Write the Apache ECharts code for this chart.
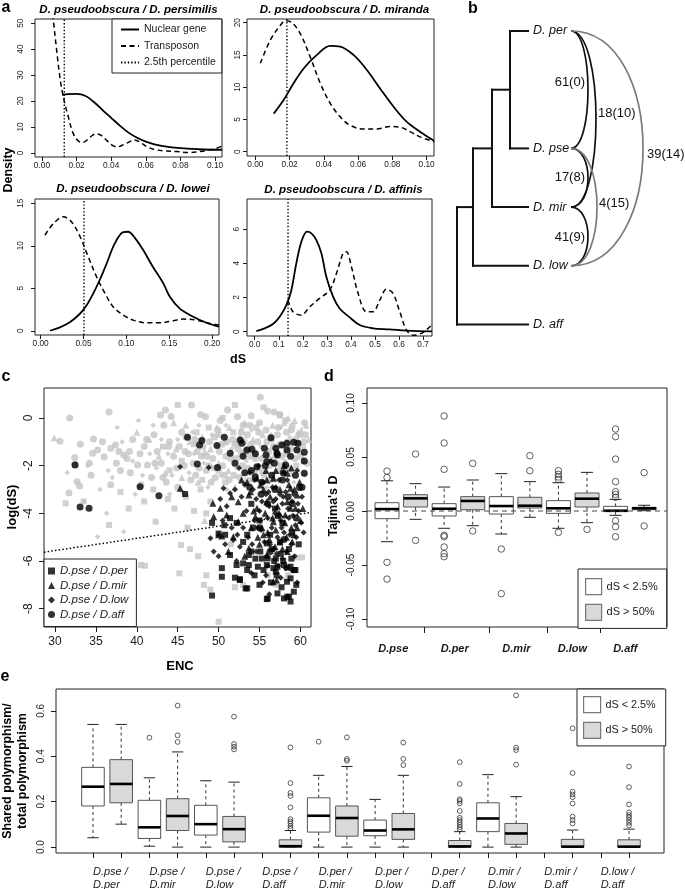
<!DOCTYPE html>
<html>
<head>
<meta charset="utf-8">
<script src="https://cdn.jsdelivr.net/npm/echarts@6.0.0/dist/echarts.min.js"></script>
<style>
html,body{margin:0;padding:0;background:#fff;}
#chart{width:685px;height:889px;}
</style>
</head>
<body>
<div id="chart"></div>
<script>
// ================= DATA =================
// Panel a: density curves [dS, density]
const persNuclear = [[0.0118,22.3],[0.015,22.6],[0.02,22.7],[0.025,22.0],[0.03,19.6],[0.035,16.5],[0.04,13.5],[0.045,10.5],[0.05,7.8],[0.055,5.8],[0.06,4.3],[0.065,3.3],[0.07,2.6],[0.08,1.8],[0.09,1.4],[0.1,1.2],[0.104,1.2]];
const persTransposon = [[0.0050,60],[0.0066,51],[0.0085,39.6],[0.0104,29],[0.0123,21.7],[0.0152,14],[0.018,7.6],[0.021,4.6],[0.0235,4.0],[0.026,4.9],[0.0287,6.5],[0.031,7.3],[0.034,6.8],[0.0374,4.8],[0.041,2.8],[0.0435,2.3],[0.047,3.1],[0.051,4.4],[0.0535,5.0],[0.057,4.0],[0.0605,2.4],[0.065,1.3],[0.07,0.8],[0.0778,0.5],[0.0855,0.1],[0.0913,0.5],[0.097,1.2],[0.1,1.6],[0.104,2.6]];
const mirNuclear = [[0.0107,5.9],[0.0165,8.0],[0.0223,10.6],[0.0282,12.9],[0.0359,15.0],[0.0437,16.4],[0.0495,16.3],[0.0573,15.0],[0.065,12.7],[0.0728,9.8],[0.0806,7.0],[0.0883,4.65],[0.0961,3.1],[0.1043,1.7]];
const mirTransposon = [[0.0029,13.7],[0.0087,17.3],[0.0146,19.6],[0.0175,20.3],[0.0214,20.0],[0.0262,18.3],[0.032,14.7],[0.0379,10.6],[0.0437,7.5],[0.0495,5.4],[0.0553,4.1],[0.0631,3.5],[0.0709,3.5],[0.0786,3.9],[0.0845,3.8],[0.0903,3.1],[0.0961,2.3],[0.1043,1.55]];
const lowNuclear = [[0.0109,0],[0.0225,0.4],[0.034,1.0],[0.0458,2.0],[0.0536,3.0],[0.0614,4.4],[0.069,6.0],[0.0769,7.9],[0.0866,10.3],[0.0963,11.6],[0.102,11.65],[0.110,10.9],[0.1196,9.5],[0.131,7.5],[0.1429,5.6],[0.1507,4.0],[0.1623,2.6],[0.1779,1.65],[0.1934,0.94],[0.208,0.47]];
const lowTransposon = [[0.005,11.25],[0.0148,12.6],[0.0264,13.4],[0.0361,12.8],[0.0458,11.1],[0.0555,8.7],[0.0652,6.35],[0.075,4.4],[0.0847,2.8],[0.0963,1.85],[0.108,1.25],[0.1235,0.94],[0.139,0.94],[0.1546,1.18],[0.1662,1.37],[0.1817,1.25],[0.1973,0.86],[0.208,0.67]];
const affNuclear = [[0.007,0.04],[0.0416,0.2],[0.076,0.45],[0.104,0.88],[0.1317,1.56],[0.1525,2.44],[0.173,4.0],[0.194,5.26],[0.2176,5.85],[0.2357,5.75],[0.2564,5.36],[0.2772,4.58],[0.298,3.2],[0.3258,2.05],[0.353,1.36],[0.395,0.84],[0.4366,0.39],[0.492,0.2],[0.561,0.14],[0.631,0.06],[0.737,0.02]];
const affTransposon = [[0.1386,1.85],[0.159,1.17],[0.194,0.97],[0.2287,1.46],[0.27,1.95],[0.312,2.44],[0.3396,3.4],[0.367,4.58],[0.381,4.68],[0.402,3.8],[0.43,2.24],[0.4644,1.17],[0.492,1.17],[0.52,1.85],[0.5475,2.48],[0.575,2.24],[0.603,1.17],[0.631,0.1],[0.6584,-0.2],[0.693,-0.1],[0.728,0.29],[0.737,0.45]];
const percentile25 = [0.0129, 0.0184, 0.0505, 0.1386];
const aTitles = ['D. pseudoobscura / D. persimilis','D. pseudoobscura / D. miranda','D. pseudoobscura / D. lowei','D. pseudoobscura / D. affinis'];
const aXTicks = [[0,0.02,0.04,0.06,0.08,0.1],[0,0.02,0.04,0.06,0.08,0.1],[0,0.05,0.1,0.15,0.2],[0,0.1,0.2,0.3,0.4,0.5,0.6,0.7]];
const aYTicks = [[0,10,20,30,40,50],[0,5,10,15,20],[0,5,10,15],[0,2,4,6]];

// Panel b: tree + shared polymorphism arcs
const tipNames = ['D. per','D. pse','D. mir','D. low','D. aff'];
const treeClades = [
  {children:['t0','t1'], depth:18},
  {children:['n0','t2'], depth:36},
  {children:['n1','t3'], depth:55},
  {children:['n2','t4'], depth:71}
];
const sharedArcs = [[0,1,'61(0)'],[0,2,'18(10)'],[1,2,'17(8)'],[2,3,'41(9)'],[1,3,'4(15)'],[0,3,'39(14)']];

// Panel c: [ENC, log(dS)]
const grayCircle = [[31.8,0.0],[36.6,0.25],[30.6,-0.97],[33.1,-1.1],[34.7,-0.88],[35.8,-1.0],[32.4,-1.66],[32.4,-1.94],[32.7,-2.67],[33.0,-2.85],[31.7,-3.15],[34.6,-1.48],[35.2,-1.34],[34.2,-1.9],[36.0,-1.62],[36.8,-1.27],[37.4,-1.13],[38.4,-1.55],[39.1,-1.41],[40.1,-1.97],[40.9,-1.2],[41.3,-1.97],[40.5,-2.8],[36.8,-2.8],[34.4,-2.4],[42.5,-1.4],[42.1,-0.7],[42.9,0.13],[43.5,0.34],[44.2,0.06],[43.3,-0.3],[46.7,0.55],[47.8,0.15],[48.4,0.05],[50.2,-0.1],[51.1,0.34],[52.3,0.05],[53.0,-0.3],[54.0,0.1],[55.1,0.87],[56.0,0.3],[56.8,0.25],[57.5,0.15],[58.2,-0.1],[59.0,-0.35],[60.5,-0.2],
  [44.5,-1.6],[45.2,-1.2],[45.8,-2.0],[46.3,-1.5],[46.9,-1.9],[47.2,-2.4],[47.9,-1.6],[48.5,-2.2],[48.9,-1.0],[49.3,-1.7],[49.6,-2.5],[50.1,-1.4],[50.5,-2.0],[51.0,-1.0],[51.5,-1.7],[51.9,-2.4],[52.4,-1.3],[52.9,-2.0],[53.5,-0.7],[53.9,-1.6],[54.3,-2.3],[54.8,-1.0],[55.3,-1.7],[55.8,-0.5],[56.2,-2.0],[56.7,-1.2],[57.2,-0.7],[57.7,-1.6],[58.3,-0.6],[58.8,-1.3],[59.4,-0.9],[60.0,-1.6],[60.6,-0.7],[41.8,-2.5],[43.0,-1.9],[43.6,-2.7],[44.0,-1.0],[45.0,-2.9],[46.0,-0.8],[38.0,-2.2],[39.5,-0.9],[37.5,-1.9],
  [46.6,-2.6],[47.1,-0.9],[47.6,-2.1],[48.1,-1.2],[48.6,-1.6],[49.1,-2.7],[49.5,-0.8],[50.0,-2.2],[50.4,-1.1],[50.9,-1.6],[51.3,-2.6],[51.7,-0.9],[52.2,-1.7],[52.6,-2.5],[53.1,-1.0],[53.6,-2.1],[54.0,-1.1],[54.5,-1.7],[54.9,-0.6],[55.4,-2.3],[55.9,-1.0],[56.3,-2.6],[56.8,-1.7],[57.3,-0.4],[57.8,-2.0],[58.3,-1.5],[58.9,-0.5],[59.3,-1.7],[59.9,-0.7],[60.4,-1.0],[45.5,-0.6],[44.9,-2.1],[43.9,-1.2],[43.2,-2.5],[42.2,-1.9],[41.2,-0.9],[40.4,-1.5],[39.2,-2.3],[38.8,-1.7],[37.8,-1.4],
  [45.9,-1.4],[47.4,-1.4],[48.8,-2.0],[50.7,-2.4],[52.0,-1.1],[53.3,-1.4],[54.7,-2.1],[56.1,-1.4],[57.5,-1.1],[58.6,-2.1],[59.7,-1.3],[60.8,-1.9],[55.0,-0.2],[53.8,-0.3],[52.8,-0.6],[49.9,-0.5]];
const graySquare = [[31.3,-3.58],[36.6,-4.49],[40.9,-3.5],[42.3,-4.35],[45.0,0.55],[45.4,-5.33],[45.2,-6.52],[40.5,-6.17],[41.0,-6.2],[46.5,-5.5],[47.5,-5.8],[48.5,-6.6],[49.0,-7.2],[48.2,-7.0],[50.0,-8.55],[51.5,-5.3],[53.0,-7.0],[52.0,-7.1],[56.0,-6.6],[57.0,-7.0],[59.5,-5.85],[60.2,-5.85],[58.5,-6.6],[33.5,-3.5],[38.0,-3.1],[39.0,-3.8],[43.8,-3.4],[44.6,-3.8],[46.0,-3.3],[47.0,-3.9],[47.8,-3.0],[48.5,-4.0],[46.2,-4.6],[49.0,-3.5],[50.5,0.0],[52.0,0.55],[55.5,0.45],[57.5,0.1],[44.0,-2.2],[45.5,-1.8],[47.0,-1.1],[48.0,-2.6],[49.5,-2.1],[50.8,-2.7],[51.8,-0.6],[52.8,-1.5],[53.8,-2.6],[54.6,-0.4],[55.6,-2.4],[56.5,-0.9],[57.5,-2.2],[58.5,-1.0],[59.5,-2.0],[60.3,-1.2],[43.2,-1.2],[42.0,-3.0],[48.8,-0.4],[47.3,-0.6],[50.0,-0.7]];
const grayTriangle = [[29.9,-0.83],[40.0,-0.6],[44.5,-0.2],[46.0,-0.3],[48.0,-0.8],[49.0,-1.3],[50.0,-1.9],[51.3,-0.4],[52.1,-1.0],[53.2,-0.2],[54.2,-0.9],[55.0,-2.1],[55.9,-1.3],[56.6,-0.3],[57.3,-1.9],[58.0,-0.2],[58.8,-2.3],[59.3,-0.1],[60.1,-0.5],[60.7,-0.3],[61.0,-0.9],[59.7,-0.6],[57.9,-1.1],[56.1,-1.6],[54.5,-1.4],[53.3,-2.6],[52.6,-0.8],[51.2,-2.2],[49.8,-0.4],[48.3,-1.4],[47.5,-2.7],[46.5,-1.0],[45.5,-2.5],[44.8,-1.3],[43.5,-2.3],[42.7,-1.6],[41.5,-0.9],[48.3,-4.3],[55.4,-0.7],[53.6,-1.2],[58.5,0.0],[60.4,-1.8],[50.7,-1.0],[52.0,-2.9]];
const grayDiamond = [[33.5,-3.5],[35.2,-4.98],[38.4,-4.77],[37.0,-2.5],[38.2,-1.0],[39.5,-1.8],[40.7,-2.4],[41.6,-1.5],[36.5,-2.2],[35.5,-3.0],[39.8,-3.2],[42.0,-0.3],[43.0,-0.9],[43.8,-1.5],[44.3,-2.4],[45.0,-0.9],[45.6,-3.1],[46.4,-2.3],[47.0,-1.5],[47.6,-0.3],[48.2,-1.9],[48.7,-2.9],[49.2,-0.7],[49.9,-1.2],[50.3,-2.4],[50.9,-0.3],[51.6,-1.3],[52.2,-2.1],[52.7,-0.5],[53.4,-1.8],[54.0,-0.5],[54.7,-2.6],[55.2,-1.2],[55.9,-2.9],[56.4,-0.7],[56.9,-2.6],[57.6,-0.4],[58.1,-1.8],[58.7,-0.8],[59.2,-2.7],[59.8,-1.1],[60.5,-2.4],[44.0,-3.2],[42.4,-2.1],[46.8,-0.6],[51.0,-3.0],[40.2,-0.1],[37.6,-0.4],[34.0,-2.0],[31.5,-2.3],[36.3,-4.0]];
const perPoints = [[45.9,-3.19],[49.2,-4.4],[50.7,-4.5],[50.8,-4.9],[50.0,-4.85],[50.4,-6.3],[50.4,-6.66],[52.0,-6.7],[52.6,-6.76],[52.2,-6.17],[53.0,-6.1],[53.5,-6.38],[54.5,-5.9],[55.9,-6.17],[56.7,-6.3],[57.9,-6.0],[58.8,-6.24],[59.4,-6.38],[58.8,-6.73],[59.2,-7.29],[58.4,-7.5],[58.8,-7.7],[55.9,-7.6],[53.5,-7.15],[49.2,-7.45],[52.6,-6.8],[55.9,-5.26],[55.1,-5.6],[57.5,-5.2],[51.4,-5.75],[53.7,-5.75],[53.7,-6.17],[54.8,-6.24],[56.0,-5.89],[57.0,-5.89],[57.2,-6.24],[58.0,-6.17],[57.0,-6.45],[58.4,-6.28],[59.25,-6.38],[58.36,-6.87],[57.2,-7.36],[58.0,-7.57],[58.6,-7.5],[56.0,-7.57],[53.3,-7.15],[55.5,-6.38],[54.2,-4.6],[56.3,-4.9],[57.8,-4.4],[59.0,-4.8],[55.0,-4.3],[53.0,-5.2],[52.2,-4.4],[51.4,-4.2],[56.9,-3.8],[58.6,-5.5],[59.8,-5.3],[54.0,-3.6],[53.5,-4.9],[56.5,-5.5],[57.6,-5.7],[58.9,-5.9],[55.3,-5.9],[54.4,-6.6],[56.4,-6.9],[57.7,-7.1],[55.0,-7.0],[57.1,-6.6],[59.5,-7.0],[54.0,-5.6],[56.8,-6.0]];
const mirPoints = [[45.3,-2.95],[49.3,-3.58],[50.2,-3.79],[49.4,-4.14],[51.0,-4.07],[50.0,-4.9],[50.4,-4.95],[51.8,-4.98],[52.4,-4.35],[54.5,-4.14],[54.7,-3.79],[53.7,-3.23],[55.1,-2.81],[54.7,-2.53],[56.7,-4.35],[58.15,-4.07],[58.8,-3.79],[59.2,-4.9],[58.4,-5.6],[55.9,-5.75],[53.7,-5.47],[56.7,-6.87],[57.1,-6.8],[59.0,-5.19],[58.4,-3.51],[59.4,-3.79],[59.6,-3.23],[56.7,-2.53],[58.4,-2.32],[58.8,-2.95],[53.9,-3.09],[52.4,-3.51],[55.9,-3.51],[57.5,-3.0],[57.0,-4.7],[55.3,-4.6],[53.0,-4.0],[51.6,-3.3],[60.0,-4.3],[57.8,-5.5],[56.2,-5.1],[54.8,-5.0],[58.0,-2.0],[59.9,-2.7],[55.8,-2.2],[52.8,-2.6],[53.2,-5.8],[51.2,-5.6],[55.5,-3.0],[56.3,-3.3],[57.2,-3.7],[58.1,-4.4],[58.9,-4.6],[55.7,-4.0],[56.6,-4.2],[57.5,-5.2],[59.3,-3.0],[54.3,-3.9],[55.0,-5.3],[56.0,-4.8],[58.6,-2.8],[57.0,-2.2],[54.0,-4.6],[55.5,-4.9],[56.9,-5.4],[58.3,-5.0],[59.6,-4.6],[60.3,-3.8],[57.4,-4.0],[55.9,-2.6],[58.9,-2.1],[53.5,-2.7]];
const lowPoints = [[45.3,-2.04],[48.8,-2.08],[49.0,-5.05],[49.4,-5.6],[51.8,-5.12],[50.6,-2.95],[51.4,-3.16],[50.2,-3.4],[51.0,-3.7],[52.0,-3.0],[52.8,-3.3],[53.2,-2.8],[53.8,-2.3],[54.2,-3.0],[54.6,-3.4],[55.0,-3.9],[55.4,-2.7],[55.8,-3.2],[56.2,-3.7],[56.6,-2.9],[57.0,-3.4],[57.4,-2.6],[57.8,-3.6],[58.2,-3.1],[58.6,-4.2],[59.0,-3.5],[59.4,-4.5],[59.8,-3.9],[60.2,-3.3],[56.0,-4.2],[56.5,-4.6],[57.2,-5.0],[57.6,-4.3],[58.0,-4.8],[58.9,-5.3],[59.3,-5.8],[57.8,-5.9],[56.8,-5.5],[55.6,-5.2],[54.6,-5.6],[53.6,-5.0],[52.6,-5.4],[51.6,-4.6],[50.8,-5.3],[50.0,-5.8],[52.2,-6.0],[54.0,-6.5],[55.4,-6.9],[56.2,-7.4],[57.6,-6.7],[59.6,-6.9],[53.0,-4.6],[54.4,-4.3],[55.2,-4.7],[58.4,-2.6],[59.6,-2.2],[56.4,-1.8],[54.9,-2.0],[52.5,-2.1],[50.5,-4.3],[60.4,-4.8],[59.0,-6.4],[57.1,-5.7],[56.0,-6.2],[55.3,-3.5],[56.1,-3.1],[56.9,-4.0],[57.7,-4.6],[58.5,-3.8],[59.1,-4.1],[54.8,-4.6],[55.9,-5.8],[57.3,-6.2],[58.3,-5.6],[54.1,-5.3],[56.7,-3.5],[57.9,-3.3],[59.5,-5.0],[54.4,-2.6],[55.1,-4.3],[56.3,-5.3],[57.5,-3.2],[58.7,-4.9],[59.7,-3.6],[60.1,-4.4],[58.2,-6.3],[55.8,-6.6],[53.4,-3.9],[52.3,-4.9],[57.0,-2.9],[59.2,-3.2],[58.0,-2.3]];
const affPoints = [[32.45,-1.97],[33.06,-3.73],[34.16,-3.79],[40.4,-2.88],[42.7,-3.26],[46.2,-0.81],[47.95,-0.94],[47.67,-1.13],[49.8,-1.15],[50.7,-0.81],[47.4,-1.93],[49.87,-2.08],[52.0,-1.9],[52.64,-0.92],[52.85,-1.06],[53.46,-1.34],[54.68,-2.04],[55.9,-1.83],[56.4,-0.83],[57.13,-1.48],[57.74,-1.13],[58.36,-1.06],[59.17,-1.02],[59.7,-1.06],[58.36,-1.34],[59.58,-1.34],[60.48,-1.44],[60.48,-1.8],[60.48,-2.32],[59.9,-2.92],[54.07,-1.31],[51.42,-1.48],[54.48,-2.46],[55.8,-1.55],[57.0,-1.27],[57.2,-1.55],[55.6,-1.27],[58.2,-1.97],[53.2,-2.3],[56.5,-2.4],[57.8,-2.6],[55.2,-3.2],[53.8,-2.9],[56.0,-3.6],[58.5,-3.3],[57.3,-4.1],[55.0,-4.6],[58.0,-5.1],[56.3,-5.6],[59.5,-4.2],[53.0,-1.6],[54.0,-2.2],[55.3,-2.7],[56.8,-1.9],[57.9,-2.3],[58.8,-1.6],[59.4,-2.4],[60.2,-2.9],[59.0,-3.6],[56.9,-3.0],[55.7,-2.0],[54.5,-1.5]];
const cRegression = [[28.65,-5.63],[61.3,-3.96]];
const cXTicks = [30,35,40,45,50,55,60];
const cYTicks = [0,-2,-4,-6,-8];

// Panel d: Tajima's D boxplots [lowWhisker, Q1, median, Q3, highWhisker]
const dGroups = ['D.pse','D.per','D.mir','D.low','D.aff'];
const dLowBoxes = [[-0.0284,-0.0071,0.0018,0.0077,0.028],[-0.016,-0.0046,0.0021,0.0068,0.0222],[-0.0213,-0.0028,0.0046,0.0133,0.0346],[-0.016,-0.0022,0.0025,0.0096,0.0262],[-0.004,-0.0006,0.0003,0.0043,0.0108]];
const dHighBoxes = [[-0.0077,0.0037,0.0117,0.0151,0.0253],[-0.0136,0.0012,0.0093,0.0133,0.0287],[-0.0058,0.0028,0.0049,0.0127,0.0272],[-0.0108,0.0037,0.0114,0.0167,0.0358],[0.0003,0.0012,0.0025,0.0034,0.0053]];
const dLowOutliers = [[0.037,0.031,-0.0475,-0.063],[0.088,0.063,0.0386,-0.0225,-0.0238,-0.0333,-0.0395,-0.0423],[-0.0352,-0.0765],[0.0373,0.034,0.0315,0.0293,-0.0198],[0.0759,0.0688,0.0481,0.0272,0.0179,0.0154,0.0127,-0.009,-0.0145,-0.0238]];
const dHighOutliers = [[0.0528,-0.0272],[0.0441,-0.0185],[0.0512,0.0373],[-0.017],[0.0355,-0.0139]];
const dYTicks = [-0.1,-0.05,0,0.05,0.1];

// Panel e: shared / total polymorphism boxplots
const ePairs = ['D.pse / D.per','D.pse / D.mir','D.pse / D.low','D.pse / D.aff','D.per / D.mir','D.per / D.low','D.per / D.aff','D.mir / D.low','D.mir / D.aff','D.low / D.aff'];
const eLowBoxes = [[0.041,0.181,0.266,0.351,0.540],[0.004,0.038,0.087,0.206,0.305],[0.0,0.053,0.101,0.184,0.292],null,[0.0,0.066,0.138,0.217,0.316],[0.0,0.050,0.073,0.119,0.210],null,[0.0,0.068,0.126,0.195,0.319],null,null];
const eHighBoxes = [[0.101,0.195,0.278,0.385,0.540],[0.0,0.073,0.137,0.213,0.419],[0.0,0.023,0.079,0.135,0.286],[0.0,0.0,0.004,0.032,0.073],[0.0,0.048,0.128,0.181,0.355],[0.0,0.034,0.078,0.148,0.316],[0.0,0.0,0.003,0.029,0.068],[0.0,0.012,0.060,0.104,0.222],[0.0,0.0,0.002,0.034,0.075],[0.0,0.0,0.002,0.032,0.079]];
const eLowOutliers = [[],[0.482],[],[],[0.464],[],[],[],[],[]];
const eHighOutliers = [[],[0.623,0.492,0.463],[0.574,0.454,0.442,0.430],[0.439,0.282,0.238,0.225,0.175,0.123,0.113,0.104,0.093,0.082],[0.483,0.388,0.380],[0.460,0.388,0.361],[0.374,0.278,0.211,0.203,0.192,0.159,0.129,0.119,0.109,0.098,0.088,0.078],[0.668,0.438,0.427,0.363],[0.523,0.326,0.244,0.232,0.220,0.192,0.134,0.119,0.104],[0.355,0.264,0.188,0.153,0.141,0.131,0.119,0.107,0.095]];
const eYTicks = [0,0.2,0.4,0.6];

// ================= LAYOUT / STYLE =================
const FONT = 'Liberation Sans, Arial, Helvetica, sans-serif';
const INK = '#1a1a1a';
const GRAYPT = '#c4c4c4';
const BOXGRAY = '#d9d9d9';

const gridBoxes = [
  {left:35, top:19, width:187, height:138},
  {left:247, top:19, width:187, height:137},
  {left:35, top:199, width:184, height:136},
  {left:247, top:199, width:185, height:137},
  {left:440, top:0, width:245, height:340},
  {left:44, top:388, width:267, height:239},
  {left:367, top:388, width:300, height:239},
  {left:56, top:689, width:608, height:164}
];
const aXRange = [[-0.004,0.104],[-0.0049,0.1043],[-0.0066,0.208],[-0.032,0.737]];
const aYRange = [[-1.6,51.6],[-0.67,20.57],[-0.5,15.5],[-0.25,7.76]];
const aXDigits = [2,2,2,1];
const aYMargin = [10,5,10,6];
const tipSlot = [0,2,3,4,5];
const arcLook = [
  {rx:17, color:'#111', align:'right', dx:-3, dy:-7},
  {rx:25, color:'#111', align:'left', dx:2, dy:-6},
  {rx:17, color:'#111', align:'right', dx:-3, dy:0},
  {rx:17, color:'#111', align:'right', dx:-3, dy:1},
  {rx:26, color:'#7a7a7a', align:'left', dx:2, dy:-4},
  {rx:72, color:'#7a7a7a', align:'left', dx:4, dy:6}
];
const arcStart = 43; // px right of tip (after label)
const dLabelPos = [1.22,3.37,5.53,7.49,9.34];
const dTickPos = [2.3,4.58,6.61,8.46];

// ================= BUILD =================
const grids = gridBoxes.map((g,i)=>Object.assign({show: i!==4, borderColor:'#222', borderWidth:1, backgroundColor:'rgba(0,0,0,0)', containLabel:false, outerBoundsMode:'none'}, g));

function axis(kind, gi, min, max, o){
  o = o || {};
  const lab = {show: !!o.labels, fontSize:o.fs||8, fontFamily:FONT, color:INK, margin:o.m==null?5:o.m,
    fontWeight:o.fw||'normal', fontStyle:o.fst||'normal'};
  if (o.labels) lab.customValues = o.labels;
  if (o.fmt) lab.formatter = o.fmt;
  if (kind==='y') lab.rotate = 90;
  if (o.align) lab.align = o.align;
  if (o.va) lab.verticalAlign = o.va;
  if (o.lh) lab.lineHeight = o.lh;
  const tick = {show: !!o.ticks, inside:false, length:o.tl||4, lineStyle:{color:INK, width:1}};
  if (o.ticks) tick.customValues = o.ticks;
  return {type:'value', gridIndex:gi, min:min, max:max, show: o.show!==false, inverse: !!o.inverse,
    splitLine:{show:false}, axisLine:{show:false, onZero:false}, axisTick:tick, axisLabel:lab};
}

const xAxes = [], yAxes = [], series = [];
const aData = [[persNuclear,persTransposon],[mirNuclear,mirTransposon],[lowNuclear,lowTransposon],[affNuclear,affTransposon]];
for (let i=0;i<4;i++){
  const dg = aXDigits[i];
  xAxes.push(axis('x', i, aXRange[i][0], aXRange[i][1], {ticks:aXTicks[i], labels:aXTicks[i], fmt:v=>Number(v).toFixed(dg), fs:8.3, m:5}));
  yAxes.push(axis('y', i, aYRange[i][0], aYRange[i][1], {ticks:aYTicks[i], labels:aYTicks[i], fmt:v=>String(Math.round(v)), fs:8.3, m:aYMargin[i]}));
  series.push({type:'line', name:'Nuclear gene', xAxisIndex:i, yAxisIndex:i, data:aData[i][0], symbol:'none', smooth:0.35, silent:true,
    lineStyle:{color:'#000', width:1.8, type:'solid'}, itemStyle:{color:'#000'}, z:3});
  series.push({type:'line', name:'Transposon', xAxisIndex:i, yAxisIndex:i, data:aData[i][1], symbol:'none', smooth:0.35, silent:true,
    lineStyle:{color:'#000', width:1.5, type:[5,3.5]}, itemStyle:{color:'#000'}, z:3});
  series.push({type:'line', name:'2.5th percentile', xAxisIndex:i, yAxisIndex:i,
    data:[[percentile25[i], aYRange[i][0]],[percentile25[i], aYRange[i][1]]], symbol:'none', silent:true,
    lineStyle:{color:'#000', width:1.4, type:[1.4,2]}, itemStyle:{color:'#000'}, z:2});
}

// Panel b
xAxes.push(axis('x', 4, -157, 88, {show:false, inverse:true}));
yAxes.push(axis('y', 4, -0.528, 5.264, {show:false, inverse:true}));
const nodeY = {}, nodeD = {};
tipNames.forEach((n,i)=>{nodeY['t'+i]=tipSlot[i]; nodeD['t'+i]=0;});
treeClades.forEach((c,i)=>{nodeY['n'+i]=(nodeY[c.children[0]]+nodeY[c.children[1]])/2; nodeD['n'+i]=c.depth;});
series.push({type:'custom', xAxisIndex:4, yAxisIndex:4, data:[[0,0]], silent:true, clip:false, z:3,
  renderItem:function(params, api){
    const kids = [];
    const L = (a,b)=>{const p=api.coord(a), q=api.coord(b);
      kids.push({type:'line', shape:{x1:p[0],y1:p[1],x2:q[0],y2:q[1]}, style:{stroke:'#111', lineWidth:2, lineCap:'square'}});};
    treeClades.forEach(c=>{
      L([c.depth, nodeY[c.children[0]]],[c.depth, nodeY[c.children[1]]]);
      c.children.forEach(k=>L([c.depth, nodeY[k]],[nodeD[k], nodeY[k]]));
    });
    tipNames.forEach((n,i)=>{const p=api.coord([0, tipSlot[i]]);
      kids.push({type:'text', x:p[0]+5, y:p[1], style:{text:n, font:'italic 12.5px '+FONT, fill:'#111', align:'left', textAlign:'left', verticalAlign:'middle', textVerticalAlign:'middle'}});});
    return {type:'group', children:kids};
  }});
series.push({type:'custom', xAxisIndex:4, yAxisIndex:4, data:sharedArcs.map((a,i)=>[0,i]), silent:true, clip:false, z:2,
  renderItem:function(params, api){
    const a = sharedArcs[params.dataIndex], lk = arcLook[params.dataIndex];
    const p1 = api.coord([0, tipSlot[a[0]]]), p2 = api.coord([0, tipSlot[a[1]]]);
    const x0 = p1[0] + arcStart, y1 = p1[1], y2 = p2[1];
    const cx = x0 + lk.rx*4/3;
    const ym = (y1+y2)/2;
    return {type:'group', children:[
      {type:'bezierCurve', shape:{x1:x0,y1:y1,x2:x0,y2:y2,cpx1:cx,cpy1:y1,cpx2:cx,cpy2:y2}, style:{stroke:lk.color, lineWidth:1.7, fill:null}},
      {type:'text', x:x0+lk.rx+lk.dx, y:ym+lk.dy, style:{text:a[2], font:'13px '+FONT, fill:'#111', align:lk.align, textAlign:lk.align, verticalAlign:'middle', textVerticalAlign:'middle'}}
    ]};
  }});

// Panel c
xAxes.push(axis('x', 5, 28.65, 61.3, {ticks:cXTicks, labels:cXTicks, fmt:v=>String(Math.round(v)), fs:12, m:9, tl:5}));
yAxes.push(axis('y', 5, -8.77, 1.26, {ticks:cYTicks, labels:cYTicks, fmt:v=>String(Math.round(v)), fs:12, m:9, tl:5}));
const grayStyle = {color:GRAYPT};
[[grayCircle,'circle',7],[graySquare,'rect',6],[grayTriangle,'triangle',7],[grayDiamond,'diamond',5.5]].forEach((s,k)=>{
  series.push({type:'scatter', name:'bg'+k, xAxisIndex:5, yAxisIndex:5, data:s[0], symbol:s[1], symbolSize:s[2], itemStyle:grayStyle, silent:true, z:2});
});
[[perPoints,'D.pse / D.per','rect',6],[mirPoints,'D.pse / D.mir','triangle',7],[lowPoints,'D.pse / D.low','diamond',6],[affPoints,'D.pse / D.aff','circle',7]].forEach(s=>{
  series.push({type:'scatter', name:s[1], xAxisIndex:5, yAxisIndex:5, data:s[0], symbol:s[2], symbolSize:s[3], itemStyle:{color:'#000'}, silent:true, z:3});
});
series.push({type:'line', name:'regression', xAxisIndex:5, yAxisIndex:5, data:cRegression, symbol:'none', silent:true,
  lineStyle:{color:'#000', width:1.5, type:[1.5,2.2]}, z:4});

// Box plot renderer
function boxRenderer(boxW){
  return function(params, api){
    const pos=api.value(0), lo=api.value(1), q1=api.value(2), med=api.value(3), q3=api.value(4), hi=api.value(5);
    const w = api.size([boxW,0])[0];
    const pLo=api.coord([pos,lo]), pQ1=api.coord([pos,q1]), pM=api.coord([pos,med]), pQ3=api.coord([pos,q3]), pHi=api.coord([pos,hi]);
    const x = pM[0];
    const fill = api.visual('color');
    const wh = {stroke:'#333', lineWidth:1, lineDash:[3,3]};
    const cap = {stroke:'#222', lineWidth:1};
    return {type:'group', children:[
      {type:'line', shape:{x1:x,y1:pQ3[1],x2:x,y2:pHi[1]}, style:wh},
      {type:'line', shape:{x1:x,y1:pQ1[1],x2:x,y2:pLo[1]}, style:wh},
      {type:'line', shape:{x1:x-w/4,y1:pHi[1],x2:x+w/4,y2:pHi[1]}, style:cap},
      {type:'line', shape:{x1:x-w/4,y1:pLo[1],x2:x+w/4,y2:pLo[1]}, style:cap},
      {type:'rect', shape:{x:x-w/2, y:pQ3[1], width:w, height:Math.max(pQ1[1]-pQ3[1],0.5)}, style:{fill:fill, stroke:'#555', lineWidth:1}},
      {type:'line', shape:{x1:x-w/2,y1:pM[1],x2:x+w/2,y2:pM[1]}, style:{stroke:'#000', lineWidth:2.6}}
    ]};
  };
}
function outlierPoints(lists, offset){
  const pts = [];
  lists.forEach((l,g)=>l.forEach(v=>pts.push([2*g+offset, v])));
  return pts;
}

// Panel d
xAxes.push(axis('x', 6, 0.3, 10.8, {ticks:dTickPos, labels:dLabelPos, tl:6,
  fmt:function(v){let b=0; dLabelPos.forEach((p,k)=>{if(Math.abs(p-v)<Math.abs(dLabelPos[b]-v)) b=k;}); return dGroups[b];},
  fs:11, m:16, fw:'bold', fst:'italic'}));
yAxes.push(axis('y', 6, -0.1074, 0.1139, {ticks:dYTicks, labels:dYTicks, fmt:v=>Number(v).toFixed(2), fs:10, m:11, tl:5}));
series.push({type:'custom', name:'dS < 2.5%', xAxisIndex:6, yAxisIndex:6, data:dLowBoxes.map((b,g)=>[2*g+1].concat(b)),
  itemStyle:{color:'#ffffff', borderColor:'#555', borderWidth:1}, renderItem:boxRenderer(0.84), silent:true, z:2});
series.push({type:'custom', name:'dS > 50%', xAxisIndex:6, yAxisIndex:6, data:dHighBoxes.map((b,g)=>[2*g+2].concat(b)),
  itemStyle:{color:BOXGRAY, borderColor:'#555', borderWidth:1}, renderItem:boxRenderer(0.84), silent:true, z:2});
series.push({type:'scatter', name:'dOutLow', xAxisIndex:6, yAxisIndex:6, data:outlierPoints(dLowOutliers,1), symbol:'circle', symbolSize:6.5,
  itemStyle:{color:'rgba(0,0,0,0)', borderColor:'#222', borderWidth:0.9}, silent:true, z:3});
series.push({type:'scatter', name:'dOutHigh', xAxisIndex:6, yAxisIndex:6, data:outlierPoints(dHighOutliers,2), symbol:'circle', symbolSize:6.5,
  itemStyle:{color:'rgba(0,0,0,0)', borderColor:'#222', borderWidth:0.9}, silent:true, z:3});
series.push({type:'line', name:'zero', xAxisIndex:6, yAxisIndex:6, data:[[0.3,0],[10.8,0]], symbol:'none', silent:true,
  lineStyle:{color:'#444', width:1, type:[5,4]}, z:4});

// Panel e
const eLabelPos = ePairs.map((p,k)=>2*k+1);
const eTickPos = []; for (let k=1;k<=20;k++) eTickPos.push(k);
xAxes.push(axis('x', 7, -0.31, 21.24, {ticks:eTickPos, labels:eLabelPos, tl:5,
  fmt:v=>ePairs[Math.round((v-1)/2)].replace(' / ',' /\n'), fs:11, m:13, fst:'italic', align:'left', va:'top', lh:12.3}));
yAxes.push(axis('y', 7, -0.026, 0.696, {ticks:eYTicks, labels:eYTicks, fmt:v=>Number(v).toFixed(1), fs:10, m:10, tl:5}));
series.push({type:'custom', name:'dS < 2.5%', xAxisIndex:7, yAxisIndex:7,
  data:eLowBoxes.map((b,k)=>b?[2*k+1].concat(b):null).filter(Boolean),
  itemStyle:{color:'#ffffff', borderColor:'#555', borderWidth:1}, renderItem:boxRenderer(0.8), silent:true, z:2});
series.push({type:'custom', name:'dS > 50%', xAxisIndex:7, yAxisIndex:7,
  data:eHighBoxes.map((b,k)=>b?[2*k+2].concat(b):null).filter(Boolean),
  itemStyle:{color:BOXGRAY, borderColor:'#555', borderWidth:1}, renderItem:boxRenderer(0.8), silent:true, z:2});
series.push({type:'scatter', name:'eOutLow', xAxisIndex:7, yAxisIndex:7, data:outlierPoints(eLowOutliers,1), symbol:'circle', symbolSize:4.8,
  itemStyle:{color:'rgba(0,0,0,0)', borderColor:'#222', borderWidth:0.9}, silent:true, z:3});
series.push({type:'scatter', name:'eOutHigh', xAxisIndex:7, yAxisIndex:7, data:outlierPoints(eHighOutliers,2), symbol:'circle', symbolSize:4.8,
  itemStyle:{color:'rgba(0,0,0,0)', borderColor:'#222', borderWidth:0.9}, silent:true, z:3});

// Legends
const boxLegendData = [
  {name:'dS < 2.5%', icon:'rect', itemStyle:{color:'#ffffff', borderColor:'#777', borderWidth:1.2}},
  {name:'dS > 50%', icon:'rect', itemStyle:{color:BOXGRAY, borderColor:'#777', borderWidth:1.2}}
];
const legends = [
  {data:['Nuclear gene','Transposon','2.5th percentile'], left:112, top:19, orient:'vertical', itemWidth:18, itemHeight:10, itemGap:3.5,
    padding:[4,6,4,8], borderColor:'#222', borderWidth:1, backgroundColor:'#fff', selectedMode:false,
    itemStyle:{color:'rgba(0,0,0,0)', borderColor:'rgba(0,0,0,0)', borderWidth:0, opacity:0},
    textStyle:{fontSize:10.5, fontFamily:FONT, color:INK, lineHeight:13}},
  {data:['D.pse / D.per','D.pse / D.mir','D.pse / D.low','D.pse / D.aff'], left:44, top:559, orient:'vertical', itemWidth:7, itemHeight:7, itemGap:1.5,
    padding:[5.5,8,5.5,4], borderColor:'#222', borderWidth:1, backgroundColor:'#fff', selectedMode:false,
    textStyle:{fontSize:11.5, fontFamily:FONT, fontStyle:'italic', color:INK, lineHeight:13}},
  {data:boxLegendData, left:578, top:569, orient:'vertical', itemWidth:16, itemHeight:16, itemGap:8.5,
    padding:[9,9,7.5,7], borderColor:'#222', borderWidth:1, backgroundColor:'#fff', selectedMode:false,
    textStyle:{fontSize:11, fontFamily:FONT, color:INK}},
  {data:boxLegendData, left:577, top:689, orient:'vertical', itemWidth:17, itemHeight:16, itemGap:8.5,
    padding:[7,10,7,6], borderColor:'#222', borderWidth:1, backgroundColor:'#fff', selectedMode:false,
    textStyle:{fontSize:10.8, fontFamily:FONT, color:INK}}
];

// Texts
function txt(s, x, y, font, rot){
  return {type:'text', x:x, y:y, rotation:rot||0, silent:true, z:10,
    style:{text:s, font:font, fill:'#000', align:'center', textAlign:'center', verticalAlign:'middle', textVerticalAlign:'middle'}};
}
const R90 = Math.PI/2;
const BI = 'italic bold 11.5px '+FONT;
const graphics = [
  txt('a', 6, 8, 'bold 16px '+FONT),
  txt('b', 473, 9, 'bold 16px '+FONT),
  txt('c', 6, 377, 'bold 16px '+FONT),
  txt('d', 329, 377, 'bold 16px '+FONT),
  txt('e', 5, 677, 'bold 16px '+FONT),
  txt(aTitles[0], 128.5, 10, BI),
  txt(aTitles[1], 344.5, 10, BI),
  txt(aTitles[2], 133, 189, BI),
  txt(aTitles[3], 343.5, 190, BI),
  txt('Density', 9, 170, 'bold 12.5px '+FONT, R90),
  txt('dS', 238, 360, 'bold 12.5px '+FONT),
  txt('log(dS)', 12, 507, 'bold 13px '+FONT, R90),
  txt('ENC', 180, 666, 'bold 13px '+FONT),
  txt("Tajima's D", 334, 506, 'bold 12.5px '+FONT, R90),
  txt('Shared polymorphism/', 8, 771, 'bold 12.5px '+FONT, R90),
  txt('total polymorphism', 23, 771, 'bold 12.5px '+FONT, R90)
];

const chart = echarts.init(document.getElementById('chart'), null, {renderer:'canvas', width:685, height:889});
chart.setOption({
  animation:false,
  backgroundColor:'#ffffff',
  textStyle:{fontFamily:FONT},
  grid:grids,
  xAxis:xAxes,
  yAxis:yAxes,
  legend:legends,
  series:series,
  graphic:{elements:graphics}
});
</script>
</body>
</html>
